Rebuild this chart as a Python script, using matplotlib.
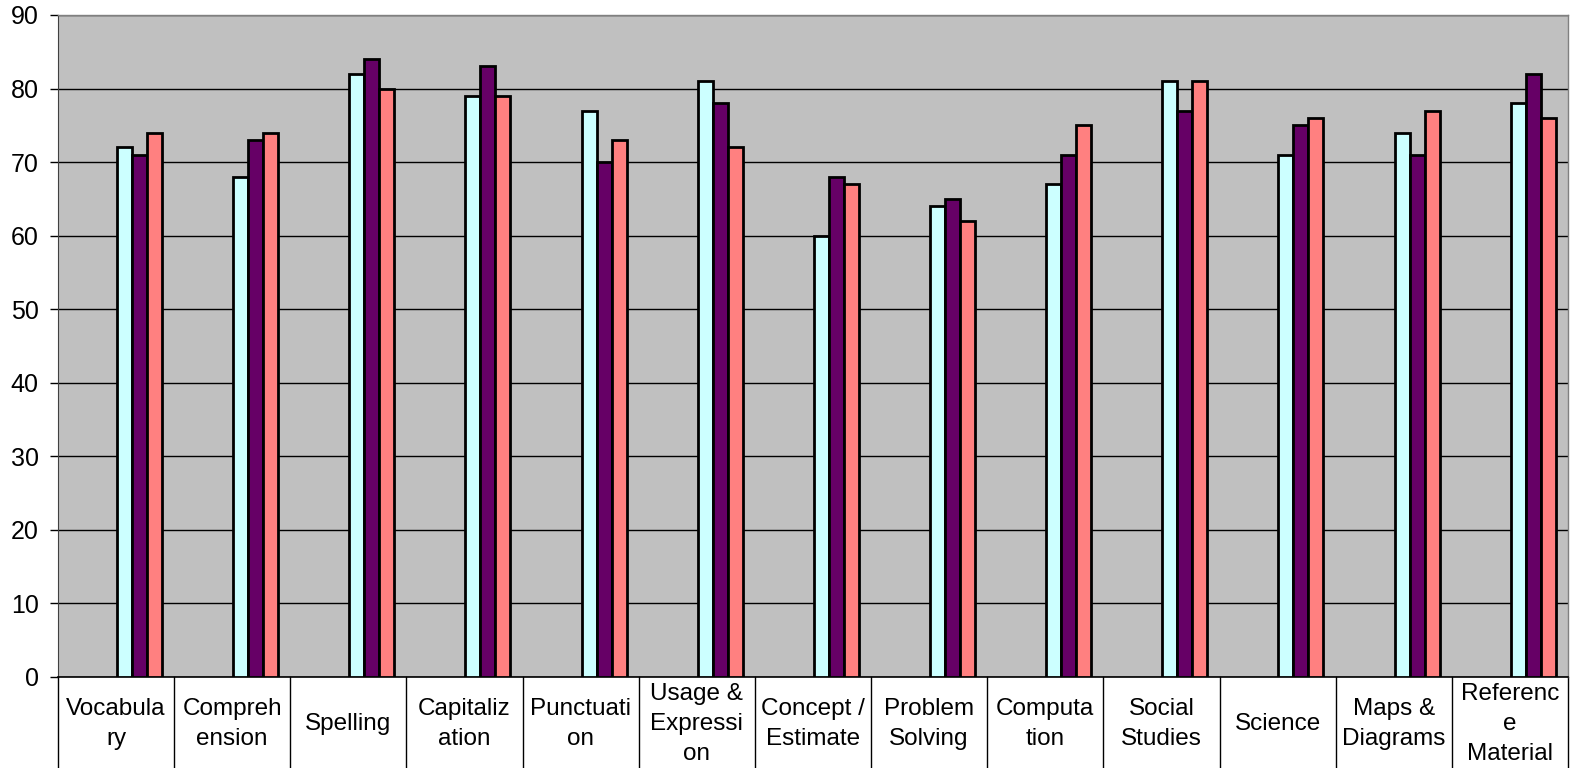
import numpy as np
import matplotlib
matplotlib.use("Agg")
import matplotlib.pyplot as plt
import matplotlib.transforms as mtransforms

plt.rcParams['font.family'] = ['Liberation Sans', 'DejaVu Sans']

categories = ["Vocabula\nry", "Compreh\nension", "Spelling", "Capitaliz\nation",
              "Punctuati\non", "Usage &\nExpressi\non", "Concept /\nEstimate",
              "Problem\nSolving", "Computa\ntion", "Social\nStudies", "Science",
              "Maps &\nDiagrams", "Referenc\ne\nMaterial"]
series_a = [72, 68, 82, 79, 77, 81, 60, 64, 67, 81, 71, 74, 78]
series_b = [71, 73, 84, 83, 70, 78, 68, 65, 71, 77, 75, 71, 82]
series_c = [74, 74, 80, 79, 73, 72, 67, 62, 75, 81, 76, 77, 76]
y_ticks = list(range(0, 91, 10))

colors = ["#CCFFFF", "#660066", "#FF8080"]

W, H = 1570, 768
fig = plt.figure(figsize=(W / 100, H / 100), dpi=100)
left, right, top, bottom = 58, 1568, 15, 677
ax = fig.add_axes([left / W, (H - bottom) / H, (right - left) / W, (bottom - top) / H])
ax.set_facecolor("#C0C0C0")

x = np.arange(len(categories))
bw = 0.129
offsets = [0.072, 0.201, 0.330]
for vals, off, c in zip([series_a, series_b, series_c], offsets, colors):
    ax.bar(x + off, vals, width=bw, color=c, edgecolor="black", linewidth=2, zorder=3)

ax.set_xlim(-0.5, len(categories) - 0.5)
ax.set_ylim(0, 90)
ax.set_yticks(y_ticks)
ax.set_yticklabels([str(v) for v in y_ticks], fontsize=18)
ax.tick_params(axis='y', length=6, width=1, pad=8, color="black")
ax.set_xticks([])
ax.yaxis.grid(True, color="black", linewidth=1, zorder=1)
ax.set_axisbelow(True)

for s in ["top", "right"]:
    ax.spines[s].set_color("#808080")
    ax.spines[s].set_linewidth(1)
ax.spines["left"].set_color("#404040")
ax.spines["bottom"].set_color("black")
ax.spines["bottom"].set_linewidth(1.2)

# category label table under the plot
trans = mtransforms.blended_transform_factory(ax.transData, ax.transAxes)
for b in np.arange(-0.5, len(categories), 1.0):
    ax.plot([b, b], [0, -0.2], color="black", linewidth=1, transform=trans, clip_on=False)
for i, lab in enumerate(categories):
    ax.text(i, -0.071, lab, transform=trans, ha="center", va="center",
            fontsize=17.5, linespacing=1.45)

fig.savefig("out.png", dpi=100)
